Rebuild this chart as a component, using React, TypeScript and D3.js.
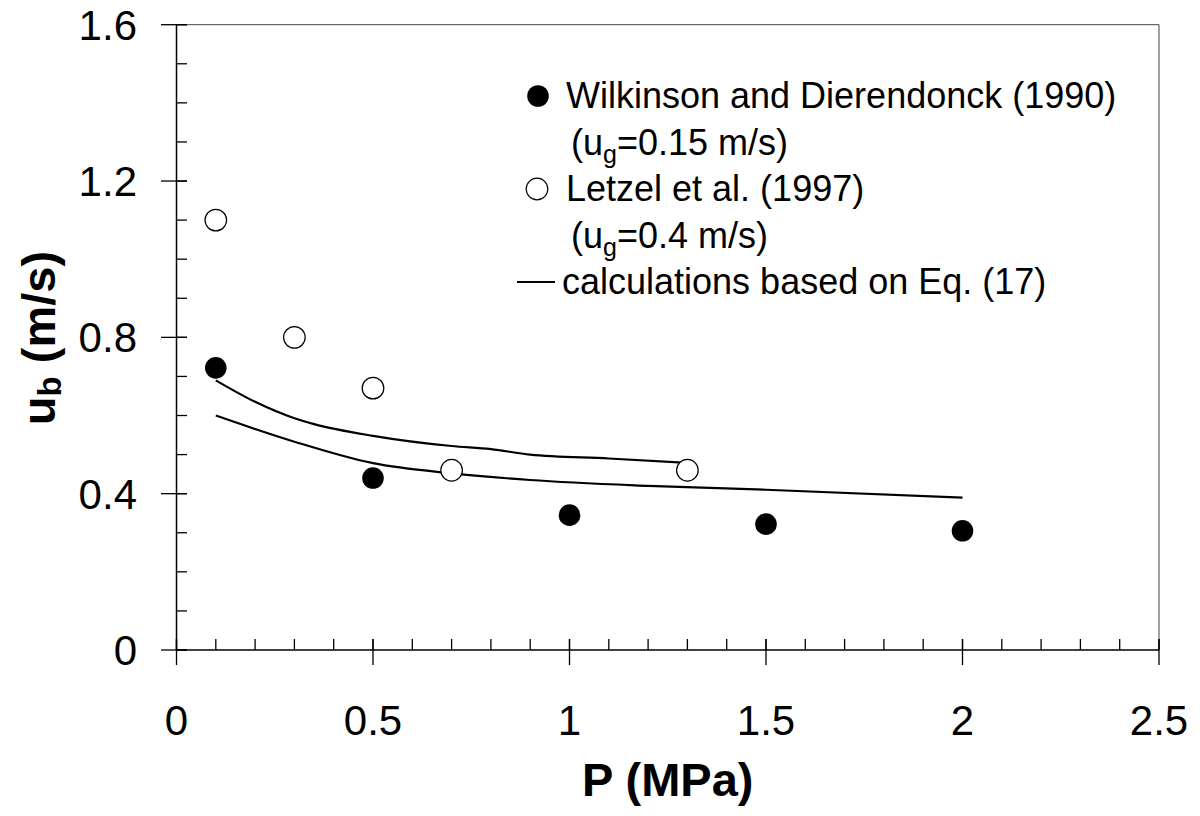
import React from "react";
import * as d3 from "d3";

const wilkinsonP = [0.1, 0.5, 1.0, 1.5, 2.0];
const wilkinsonU = [0.722, 0.44, 0.345, 0.322, 0.305];

const letzelP = [0.1, 0.3, 0.5, 0.7, 1.3];
const letzelU = [1.1, 0.8, 0.67, 0.46, 0.46];

const calcHighP = [0.1, 0.2, 0.3, 0.35, 0.5, 0.7, 0.8, 0.9, 1.1, 1.3];
const calcHighU = [0.69, 0.635, 0.593, 0.578, 0.548, 0.522, 0.514, 0.5, 0.49, 0.479];

const calcLowP = [0.1, 0.3, 0.5, 0.7, 0.9, 1.2, 1.5, 2.0];
const calcLowU = [0.6, 0.533, 0.478, 0.452, 0.435, 0.42, 0.41, 0.39];

const xTicks = [0, 0.5, 1, 1.5, 2, 2.5];
const yTicks = [0, 0.4, 0.8, 1.2, 1.6];

const W = 1200;
const H = 816;
const left = 176.5;
const right = 1159;
const top = 24.7;
const bottom = 650;

export default function App() {
  const x = d3.scaleLinear().domain([0, 2.5]).range([left, right]);
  const y = d3.scaleLinear().domain([0, 1.6]).range([bottom, top]);

  const line = d3
    .line<[number, number]>()
    .x((d) => x(d[0]))
    .y((d) => y(d[1]))
    .curve(d3.curveMonotoneX);

  const highPts: [number, number][] = calcHighP.map((p, i) => [p, calcHighU[i]]);
  const lowPts: [number, number][] = calcLowP.map((p, i) => [p, calcLowU[i]]);

  const xMinor = d3.range(0, 26).map((i) => i / 10);
  const yMinor = d3.range(0, 17).map((i) => i / 10);

  const font = "'Liberation Sans', Arial, sans-serif";

  return (
    <svg
      width={W}
      height={H}
      style={{ position: "absolute", left: 0, top: 0, background: "#fff" }}
      fontFamily={font}
    >
      <rect x={0} y={0} width={W} height={H} fill="#fff" />
      {/* frame top & right */}
      <line x1={left} x2={right} y1={top} y2={top} stroke="#444" strokeWidth={1} />
      <line x1={right} x2={right} y1={top} y2={bottom} stroke="#444" strokeWidth={1} />

      {/* axes */}
      <line x1={left} x2={right} y1={bottom} y2={bottom} stroke="#000" strokeWidth={1.5} />
      <line x1={left} x2={left} y1={top} y2={bottom} stroke="#000" strokeWidth={1.5} />

      {/* x minor ticks */}
      {xMinor.map((v, i) => (
        <line key={"xm" + i} x1={x(v)} x2={x(v)} y1={bottom - 11} y2={bottom} stroke="#000" strokeWidth={1.3} />
      ))}
      {xTicks.map((v, i) => (
        <g key={"xt" + i}>
          <line x1={x(v)} x2={x(v)} y1={bottom - 11} y2={bottom + 15} stroke="#000" strokeWidth={1.3} />
          <text x={x(v)} y={735} textAnchor="middle" fontSize={42}>
            {String(v)}
          </text>
        </g>
      ))}

      {/* y minor ticks */}
      {yMinor.map((v, i) => (
        <line key={"ym" + i} x1={left} x2={left + 10.5} y1={y(v)} y2={y(v)} stroke="#000" strokeWidth={1.3} />
      ))}
      {yTicks.map((v, i) => (
        <g key={"yt" + i}>
          <line x1={left - 15.5} x2={left + 10.5} y1={y(v)} y2={y(v)} stroke="#000" strokeWidth={1.3} />
          <text x={137} y={y(v) + 15} textAnchor="end" fontSize={42}>
            {String(v)}
          </text>
        </g>
      ))}

      {/* calculated lines */}
      <path d={line(highPts) || ""} fill="none" stroke="#000" strokeWidth={2.2} />
      <path d={line(lowPts) || ""} fill="none" stroke="#000" strokeWidth={2.2} />

      {/* Wilkinson points */}
      {wilkinsonP.map((p, i) => (
        <circle key={"w" + i} cx={x(p)} cy={y(wilkinsonU[i])} r={10.8} fill="#000" />
      ))}
      {/* Letzel points */}
      {letzelP.map((p, i) => (
        <circle key={"l" + i} cx={x(p)} cy={y(letzelU[i])} r={10.8} fill="#fff" stroke="#000" strokeWidth={1.2} />
      ))}

      {/* legend */}
      <circle cx={538} cy={96} r={10.8} fill="#000" />
      <text x={566} y={108} fontSize={36}>
        Wilkinson and Dierendonck (1990)
      </text>
      <text x={571} y={155} fontSize={36}>
        (u<tspan fontSize={25} dy={8}>g</tspan>
        <tspan dy={-8}>=0.15 m/s)</tspan>
      </text>
      <circle cx={537} cy={189} r={10.8} fill="#fff" stroke="#000" strokeWidth={1.2} />
      <text x={566} y={201} fontSize={36}>
        Letzel et al. (1997)
      </text>
      <text x={571} y={248} fontSize={36}>
        (u<tspan fontSize={25} dy={8}>g</tspan>
        <tspan dy={-8}>=0.4 m/s)</tspan>
      </text>
      <line x1={517} x2={555} y1={282} y2={282} stroke="#000" strokeWidth={2} />
      <text x={562} y={294} fontSize={36}>
        calculations based on Eq. (17)
      </text>

      {/* axis titles */}
      <text x={(left + right) / 2} y={796} textAnchor="middle" fontSize={47} fontWeight="bold">
        P (MPa)
      </text>
      <text
        transform={`translate(55, ${338}) rotate(-90)`}
        textAnchor="middle"
        fontSize={47}
        fontWeight="bold"
      >
        u<tspan fontSize={33} dy={6}>b</tspan>
        <tspan dy={-6}> (m/s)</tspan>
      </text>
    </svg>
  );
}
